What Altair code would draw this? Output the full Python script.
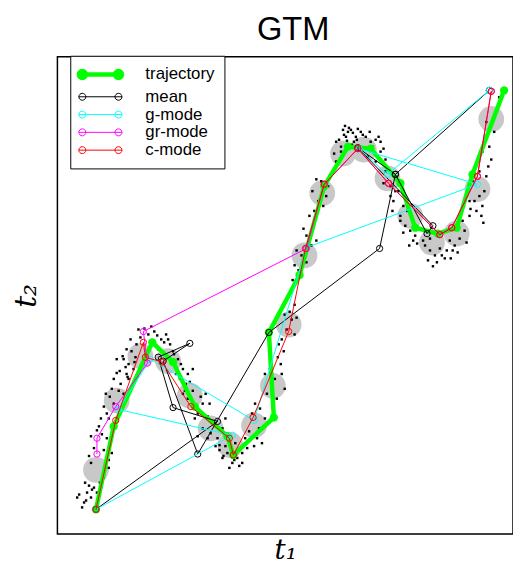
import altair as alt
import pandas as pd

# ---- legend / series meta ----
series_names = ["trajectory", "mean", "g-mode", "gr-mode", "c-mode"]
series_colors = ["#00ff00", "#000000", "#00ffff", "#ff00ff", "#ff0000"]
series_widths = [4.5, 1, 1, 1, 1]

# ---- paths ----
traj_x = [97, 115, 154, 175, 197, 230, 236, 277, 272, 303, 328, 352, 375, 405, 420, 443, 462, 478, 510]
traj_y = [512, 428, 343, 363, 408, 438, 457, 419, 333, 275, 185, 145, 147, 182, 227, 233, 227, 173, 88]

mean_x = [97, 220, 175, 160, 192, 165, 200, 272, 384, 400, 362, 438, 432, 400, 495]
mean_y = [512, 423, 409, 358, 344, 362, 456, 333, 248, 173, 146, 225, 233, 173, 88]

g_x = [97, 235, 120, 152, 257, 310, 483, 363, 392, 495]
g_y = [512, 437, 411, 360, 422, 247, 183, 147, 173, 88]

gr_x = [98, 98, 117, 149, 145, 310, 328, 362, 393, 445, 457, 483, 497]
gr_y = [456, 440, 408, 364, 332, 248, 183, 147, 182, 234, 227, 175, 89]

c_x = [97, 117, 145, 147, 164, 193, 232, 236, 256, 292, 309, 328, 362, 393, 445, 457, 483, 497]
c_y = [512, 422, 343, 358, 363, 408, 440, 457, 419, 332, 248, 183, 147, 182, 234, 227, 175, 89]

# ---- latent (gray) points ----
lat_x = [97, 118, 142, 170, 192, 213, 233, 257, 276, 292, 308, 326, 347, 368, 392, 415, 437, 462, 483, 497]
lat_y = [472, 402, 357, 362, 397, 430, 447, 427, 387, 325, 255, 192, 152, 148, 177, 215, 242, 233, 188, 117]

# ---- data cloud (black dots) ----
dot_x = [85, 80, 88, 92, 95, 83, 98, 90, 78, 86, 93, 101, 87,
         105, 110, 92, 110, 113, 105, 95, 111, 98, 92, 100, 90, 108, 103,
         110, 108, 115, 107, 113, 125, 122, 115, 130, 105, 102, 120, 118, 111,
         128, 130, 125, 135, 138, 128, 132, 142, 150, 156, 163, 168, 172, 175, 118, 124,
         133, 137, 127, 140, 146, 153, 159, 166, 170, 121, 129, 136,
         180, 185, 182, 188, 178, 190, 160, 195, 183, 187, 192, 176,
         190, 195, 198, 205, 200, 208, 185, 210, 212, 203, 197,
         205, 210, 215, 220, 225, 228, 200, 218, 213, 222,
         230, 225, 222, 240, 245, 235, 250, 238, 228, 248, 245, 232, 242, 237, 226,
         255, 260, 262, 265, 252, 258, 268, 263, 257,
         270, 278, 280, 285, 288, 273, 268, 284, 276, 281,
         285, 290, 298, 288, 295, 300, 282, 298, 293, 287,
         302, 298, 305, 310, 300, 315, 310, 320, 296, 307,
         318, 322, 330, 325, 316, 332, 320, 335, 327, 313,
         340, 345, 340, 350, 352, 355, 347, 360, 365, 370, 343, 358,
         348, 353, 357, 362, 367, 345, 351, 356, 361, 338, 374, 349,
         375, 380, 385, 372, 380, 385, 390, 377, 383, 388,
         390, 395, 400, 388, 398, 403, 408, 395, 397, 405,
         410, 415, 405, 420, 412, 418, 408, 414, 422,
         430, 435, 440, 445, 428, 450, 442, 435, 438, 447, 433, 452,
         455, 460, 465, 470, 468, 475, 458, 463, 472, 456,
         480, 485, 488, 475, 478, 490, 485, 492, 482, 487, 476, 489,
         490, 495, 500, 492, 502, 488, 505, 497, 494]
dot_y = [505, 497, 495, 500, 490, 510, 495, 488, 500, 485, 492, 485, 503,
         480, 470, 465, 462, 455, 452, 450, 445, 432, 438, 428, 458, 440, 436,
         420, 415, 405, 395, 390, 395, 385, 380, 380, 408, 420, 392, 374, 398,
         375, 365, 360, 370, 345, 350, 340, 338, 335, 332, 340, 335, 345, 352, 360, 357,
         352, 358, 368, 330, 329, 327, 336, 343, 340, 372, 378, 363,
         360, 370, 380, 385, 375, 375, 350, 370, 365, 392, 383, 355,
         400, 392, 410, 405, 415, 395, 395, 418, 405, 398, 420,
         430, 440, 425, 440, 430, 420, 438, 448, 435, 447,
         455, 460, 452, 460, 455, 465, 450, 445, 448, 440, 465, 470, 468, 462, 458,
         415, 440, 430, 445, 433, 405, 420, 410, 448,
         395, 380, 400, 375, 390, 370, 375, 365, 405, 358,
         340, 330, 335, 315, 320, 318, 345, 305, 312, 352,
         270, 265, 255, 262, 250, 245, 235, 240, 280, 228,
         210, 200, 195, 180, 190, 185, 178, 172, 205, 215,
         160, 150, 140, 135, 130, 128, 128, 135, 130, 135, 138, 140,
         133, 126, 131, 127, 133, 145, 139, 143, 138, 152, 130, 124,
         140, 138, 140, 155, 160, 150, 158, 145, 135, 147,
         170, 185, 190, 182, 200, 190, 205, 195, 210, 215,
         225, 230, 220, 235, 210, 240, 232, 245, 243,
         245, 250, 255, 248, 240, 258, 262, 238, 266, 255, 260, 250,
         240, 245, 238, 230, 220, 215, 250, 252, 242, 258,
         200, 195, 205, 200, 180, 190, 170, 175, 210, 215, 208, 222,
         140, 145, 130, 120, 110, 150, 95, 158, 165]

# ---- tables ----
rows = []
for name, xs, ys in [("trajectory", traj_x, traj_y), ("mean", mean_x, mean_y),
                     ("g-mode", g_x, g_y), ("gr-mode", gr_x, gr_y), ("c-mode", c_x, c_y)]:
    for i, (a, b) in enumerate(zip(xs, ys)):
        rows.append({"series": name, "t1": a, "t2": b, "step": i})
paths = pd.DataFrame(rows)
latent = pd.DataFrame({"t1": lat_x, "t2": lat_y})
dots = pd.DataFrame({"t1": dot_x, "t2": dot_y})

xscale = alt.Scale(domain=[58, 519], nice=False, zero=False)
yscale = alt.Scale(domain=[54, 537], nice=False, zero=False, reverse=True)

xaxis = alt.Axis(title="t₁", labels=False, ticks=False, domain=False, grid=False,
                 titleFont="DejaVu Serif", titleFontStyle="italic", titleFontWeight="normal",
                 titleFontSize=28, titleColor="black", titlePadding=3)
yaxis = alt.Axis(title="t₂", labels=False, ticks=False, domain=False, grid=False,
                 titleFont="DejaVu Serif", titleFontStyle="italic", titleFontWeight="normal",
                 titleFontSize=30, titleColor="black", titlePadding=16)

X = alt.X("t1:Q", scale=xscale, axis=xaxis)
Y = alt.Y("t2:Q", scale=yscale, axis=yaxis)

sym_path = ("M-1.61,0L5.14,0"
            "M-1.58,0A0.54,0.54,0,1,0,-0.50,0A0.54,0.54,0,1,0,-1.58,0"
            "M4.03,0A0.54,0.54,0,1,0,5.11,0A0.54,0.54,0,1,0,4.03,0")

legend = alt.Legend(title=None, orient="none", legendX=13, legendY=-1, direction="vertical",
                    symbolType=sym_path, symbolSize=170, symbolFillColor="transparent",
                    strokeColor="black", fillColor="white", padding=10,
                    labelFont="Liberation Sans", labelFontSize=17, labelColor="black",
                    labelOffset=48, rowPadding=0)

color = alt.Color("series:N", scale=alt.Scale(domain=series_names, range=series_colors), legend=legend)
swidth = alt.StrokeWidth("series:N", scale=alt.Scale(type="ordinal", domain=series_names, range=series_widths),
                         legend=legend)

layers = [
    alt.Chart(latent).mark_circle(size=680, color="#c8c8c8", opacity=1).encode(x=X, y=Y),
    alt.Chart(dots).mark_square(size=6, color="black", opacity=1).encode(x=X, y=Y),
]
for name, col in zip(series_names, series_colors):
    base = alt.Chart(paths).transform_filter(alt.datum.series == name)
    layers.append(base.mark_line().encode(x=X, y=Y, color=color, strokeWidth=swidth, order="step:Q"))
    if name == "trajectory":
        layers.append(base.mark_circle(size=70, color=col, opacity=1).encode(x=X, y=Y))
    else:
        layers.append(base.mark_point(shape="circle", filled=False, size=40, strokeWidth=1,
                                      color=col, opacity=1).encode(x=X, y=Y))

chart = alt.layer(*layers).properties(
    width=461, height=483,
    title=alt.Title("GTM", font="Liberation Sans", fontSize=33, fontWeight="normal",
                    color="black", offset=8, dx=8),
    autosize=alt.AutoSizeParams(type="none"),
    padding={"left": 50, "top": 46, "right": 0, "bottom": 32},
).configure_view(stroke="black", strokeWidth=1.5)

chart.save("out.html", embed_options={"renderer": "svg", "actions": False})
